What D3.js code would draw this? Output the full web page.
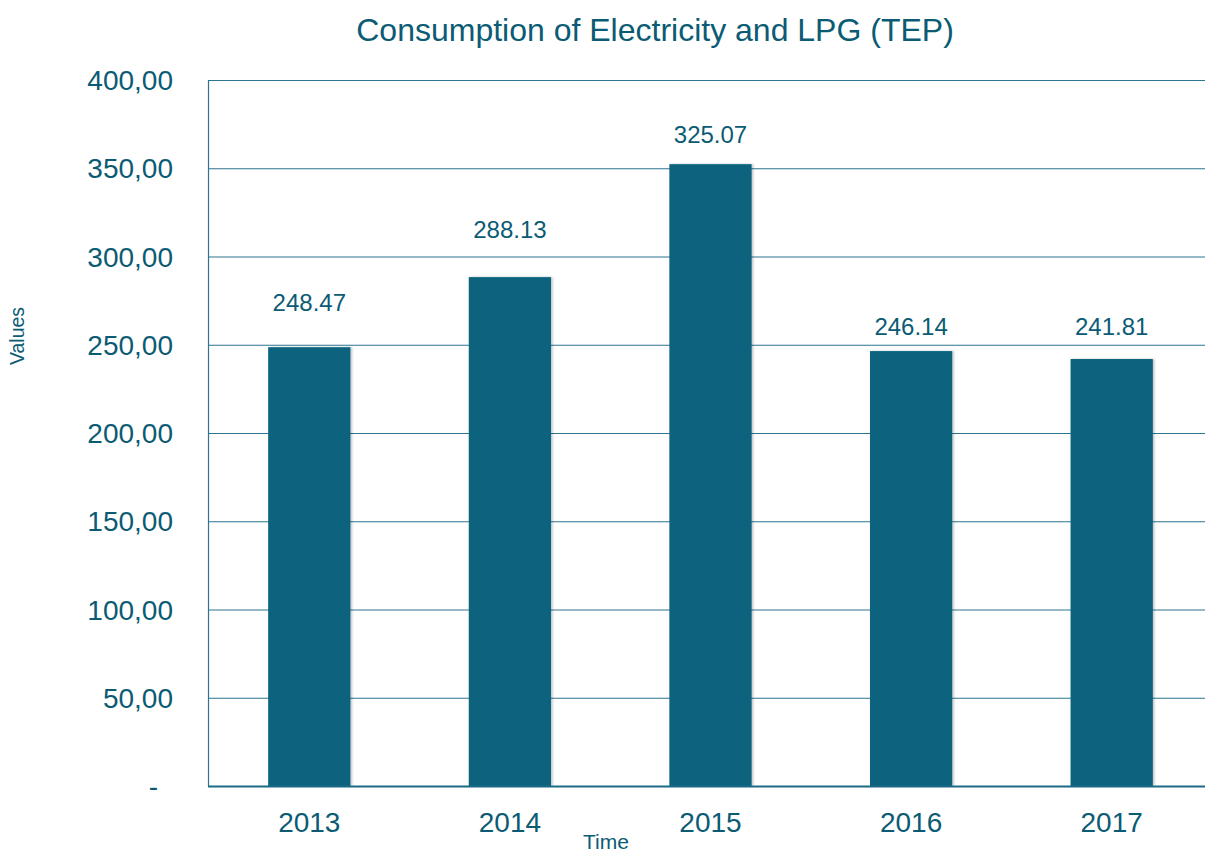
<!DOCTYPE html>
<html lang="en">
<head>
<meta charset="utf-8">
<title>Consumption of Electricity and LPG (TEP)</title>
<script src="https://d3js.org/d3.v7.min.js"></script>
<style>
  body { margin: 0; background: #fff; }
  svg text { font-family: "Liberation Sans", Arial, sans-serif; fill: #0b5b74; }
</style>
</head>
<body>
<script>
// data
const years = ["2013", "2014", "2015", "2016", "2017"]
const barValues = [248.6, 288.3, 352.3, 246.4, 241.9]
const labelTexts = ["248.47", "288.13", "325.07", "246.14", "241.81"]
const labelAt = [274.5, 315.5, 369.5, 260.5, 260.5]   // where each label sits, in value units
const yTicks = [0, 50, 100, 150, 200, 250, 300, 350, 400]

let width = 1205
let height = 852
let plotLeft = 208, plotRight = 1213, plotTop = 80, plotBottom = 786

let svg = d3.select("body").append("svg")
    .attr("width", width)
    .attr("height", height)

let x = d3.scaleBand()
    .domain(years)
    .range([plotLeft, plotRight])
    .paddingInner(0.59)
    .paddingOuter(0.3)

let y = d3.scaleLinear()
    .domain([0, 400])
    .range([plotBottom, plotTop])

let fmt = (d) => d === 0 ? "-" : d3.format(".2f")(d).replace(".", ",")

// gridlines
svg.append("g")
    .selectAll("line")
    .data(yTicks.filter(d => d > 0))
    .enter()
    .append("line")
    .attr("x1", plotLeft)
    .attr("x2", width)
    .attr("y1", d => y(d) + 0.5)
    .attr("y2", d => y(d) + 0.5)
    .attr("stroke", "#2c7590")
    .attr("stroke-width", 1.2)

// left axis line
svg.append("line")
    .attr("x1", plotLeft + 0.5).attr("x2", plotLeft + 0.5)
    .attr("y1", plotTop).attr("y2", plotBottom)
    .attr("stroke", "#2c7590")
    .attr("stroke-width", 1.2)

// y tick labels
svg.append("g")
    .selectAll("text")
    .data(yTicks)
    .enter()
    .append("text")
    .attr("x", d => d === 0 ? 158 : 173)
    .attr("y", d => y(d) + 10)
    .attr("text-anchor", "end")
    .attr("font-size", 28)
    .text(fmt)

// shadow for bars
let defs = svg.append("defs")
let f = defs.append("filter").attr("id", "shadow")
    .attr("x", "-10%").attr("y", "-10%").attr("width", "130%").attr("height", "130%")
f.append("feDropShadow")
    .attr("dx", 1.5).attr("dy", 0).attr("stdDeviation", 1.2)
    .attr("flood-color", "#000").attr("flood-opacity", 0.25)

// bars
svg.append("g")
    .selectAll("rect")
    .data(barValues)
    .enter()
    .append("rect")
    .attr("x", (d, i) => x(years[i]))
    .attr("y", d => y(d))
    .attr("width", x.bandwidth())
    .attr("height", d => plotBottom - y(d))
    .attr("fill", "#07637e")
    .attr("filter", "url(#shadow)")

// bottom axis line
svg.append("line")
    .attr("x1", plotLeft).attr("x2", width)
    .attr("y1", plotBottom + 0.5).attr("y2", plotBottom + 0.5)
    .attr("stroke", "#1b6a86")
    .attr("stroke-width", 2.2)

// x tick labels
svg.append("g")
    .selectAll("text")
    .data(years)
    .enter()
    .append("text")
    .attr("x", d => x(d) + x.bandwidth() / 2)
    .attr("y", 832)
    .attr("text-anchor", "middle")
    .attr("font-size", 28)
    .text(d => d)

// value labels
svg.append("g")
    .selectAll("text")
    .data(labelTexts)
    .enter()
    .append("text")
    .attr("x", (d, i) => x(years[i]) + x.bandwidth() / 2)
    .attr("y", (d, i) => y(labelAt[i]) + 9)
    .attr("text-anchor", "middle")
    .attr("font-size", 24)
    .text(d => d)

// title
svg.append("text")
    .attr("x", 655)
    .attr("y", 41)
    .attr("text-anchor", "middle")
    .attr("font-size", 32)
    .text("Consumption of Electricity and LPG (TEP)")

// axis titles
svg.append("text")
    .attr("x", 606)
    .attr("y", 849)
    .attr("text-anchor", "middle")
    .attr("font-size", 21)
    .text("Time")

svg.append("text")
    .attr("transform", "translate(24,336) rotate(-90)")
    .attr("text-anchor", "middle")
    .attr("font-size", 19.5)
    .text("Values")
</script>
</body>
</html>
